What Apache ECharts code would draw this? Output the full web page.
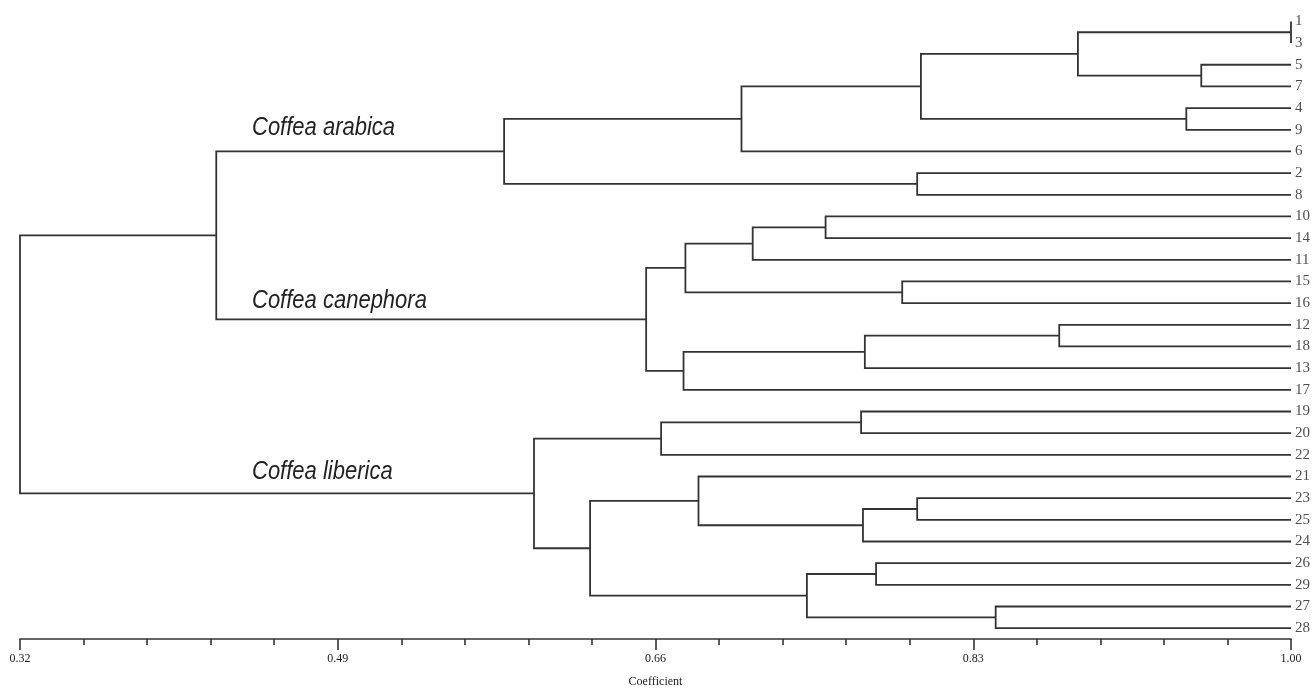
<!DOCTYPE html>
<html>
<head>
<meta charset="utf-8">
<script src="https://cdn.jsdelivr.net/npm/echarts@6/dist/echarts.min.js"></script>
<style>
    html, body { margin: 0; padding: 0; background: #fff; }
    #main { width: 1312px; height: 693px; }
</style>
</head>
<body>
<div id="main"></div>
<script>
// leaf order, top to bottom
var leaves = ['1', '3', '5', '7', '4', '9', '6', '2', '8', '10', '14', '11', '15', '16', '12', '18', '13', '17',
    '19', '20', '22', '21', '23', '25', '24', '26', '29', '27', '28'];

// merges: node n(i+1) joins mergeLeft[i] and mergeRight[i] at mergeCoef[i]
var mergeLeft = ['1', '5', '4', 'n1', 'n4', 'n5', '2', 'n6',
    '10', 'n9', '15', 'n10', '12', 'n13', 'n14', 'n12', 'n8',
    '19', 'n18', '23', 'n20', '21', '26', '27', 'n23', 'n22', 'n19', 'n17'];
var mergeRight = ['3', '7', '9', 'n2', 'n3', '6', '8', 'n7',
    '14', '11', '16', 'n11', '18', '13', '17', 'n15', 'n16',
    '20', '22', '25', '24', 'n21', '29', '28', 'n24', 'n25', 'n26', 'n27'];
var mergeCoef = [1.00, 0.952, 0.944, 0.886, 0.802, 0.706, 0.800, 0.579,
    0.751, 0.712, 0.792, 0.676, 0.876, 0.772, 0.675, 0.655, 0.425,
    0.770, 0.663, 0.800, 0.771, 0.683, 0.778, 0.842, 0.741, 0.625, 0.595, 0.320];

var leafCoef = 1.00;
var axisMin = 0.32, axisMax = 1.00, axisStep = 0.17;
var cladeNames = ['Coffea arabica', 'Coffea canephora', 'Coffea liberica'];
var cladeNodes = ['n8', 'n16', 'n27'];

var yPos = {}, hPos = {};
leaves.forEach(function (name, i) {
    yPos[name] = i;
    hPos[name] = leafCoef;
});
var segs = [];
for (var i = 0; i < mergeCoef.length; i++) {
    var id = 'n' + (i + 1), a = mergeLeft[i], b = mergeRight[i], h = mergeCoef[i];
    yPos[id] = (yPos[a] + yPos[b]) / 2;
    hPos[id] = h;
    segs.push({ coords: [[hPos[a], yPos[a]], [h, yPos[a]], [h, yPos[b]], [hPos[b], yPos[b]]] });
}

var serif = 'Liberation Serif';
var lineColor = '#333';

var myChart = echarts.init(document.getElementById('main'));
var option = {
    animation: false,
    backgroundColor: '#fff',
    grid: { left: 20, right: 21, top: 10.6, bottom: 50 },
    xAxis: {
        type: 'value', min: axisMin, max: axisMax, interval: axisStep,
        axisLine: { onZero: false, lineStyle: { color: lineColor, width: 1.6 } },
        axisTick: { length: 11, lineStyle: { color: lineColor, width: 1.6 } },
        minorTick: { show: true, splitNumber: 5, length: 6, lineStyle: { color: lineColor, width: 1.6 } },
        axisLabel: {
            formatter: function (v) { return v.toFixed(2); },
            fontFamily: serif, fontSize: 12, color: '#222', margin: 14
        },
        splitLine: { show: false },
        minorSplitLine: { show: false },
        name: 'Coefficient', nameLocation: 'middle', nameGap: 37,
        nameTextStyle: { fontFamily: serif, fontSize: 12, color: '#222' }
    },
    yAxis: { type: 'value', min: -0.5, max: leaves.length - 0.5, inverse: true, show: false },
    series: [
        {
            type: 'lines',
            coordinateSystem: 'cartesian2d',
            polyline: true,
            silent: true,
            data: segs,
            lineStyle: { color: lineColor, width: 1.8, opacity: 1 }
        },
        {
            type: 'scatter',
            symbolSize: 0,
            silent: true,
            data: leaves.map(function (n, i) { return { name: n, value: [leafCoef, i] }; }),
            label: {
                show: true, position: 'right', distance: 4, formatter: '{b}',
                fontFamily: serif, fontSize: 15, color: '#222'
            }
        }
    ]
};
myChart.setOption(option);

// clade names sit above their branches
var labelDy = [-23, -18, -21];
var graphics = cladeNodes.map(function (id, i) {
    var py = myChart.convertToPixel({ gridIndex: 0 }, [hPos[id], yPos[id]])[1];
    return {
        type: 'text', x: 252, y: py + labelDy[i], scaleY: 1.15,
        style: {
            text: cladeNames[i], fontFamily: 'Liberation Sans', fontStyle: 'italic',
            fontSize: 22, fill: '#222', verticalAlign: 'middle'
        }
    };
});
myChart.setOption({ graphic: graphics });
</script>
</body>
</html>
